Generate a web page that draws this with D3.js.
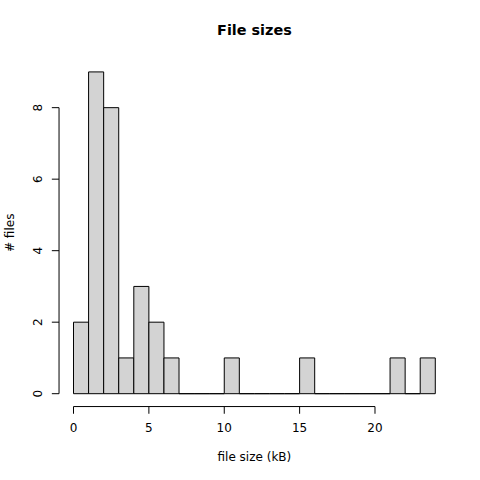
<!DOCTYPE html>
<html><head><meta charset="utf-8">
<script src="https://cdn.jsdelivr.net/npm/d3@7"></script>
<style>body{margin:0;background:#fff}svg{display:block}text{font-family:"DejaVu Sans",sans-serif}</style>
</head><body><div id="c"></div>
<script>
const binStarts = [0,1,2,3,4,5,6,7,8,9,10,11,12,13,14,15,16,17,18,19,20,21,22,23];
const counts    = [2,9,8,1,3,2,1,0,0,0,1,0,0,0,0,1,0,0,0,0,0,1,0,1];
const xTicks = [0,5,10,15,20];
const yTicks = [0,2,4,6,8];
const binWidth = 1;

const W=480,H=480, L=59.04, R=449.76, T=59.04, B=406.56;
const svg=d3.select("#c").append("svg").attr("width",W).attr("height",H);
const xmin=0,xmax=24, ymax=9;
const dx=(xmax-xmin)*0.04, dy=ymax*0.04;
const x=d3.scaleLinear().domain([xmin-dx,xmax+dx]).range([L,R]);
const y=d3.scaleLinear().domain([-dy,ymax+dy]).range([B,T]);

svg.append("g").selectAll("path").data(binStarts).join("path")
 .attr("d",(d,i)=>{const x0=x(d),x1=x(d+binWidth),y0=y(0),y1=y(counts[i]);
   return `M${x0},${y0}L${x0},${y1}L${x1},${y1}L${x1},${y0}Z`;})
 .attr("fill","#d3d3d3").attr("stroke","#000").attr("stroke-width",1);

// x axis
const gx=svg.append("g");
gx.append("line").attr("x1",x(xTicks[0])).attr("x2",x(xTicks[xTicks.length-1])).attr("y1",B).attr("y2",B).attr("stroke","#000");
gx.selectAll("line.t").data(xTicks).join("line").attr("class","t")
 .attr("x1",d=>x(d)).attr("x2",d=>x(d)).attr("y1",B).attr("y2",B+7.2).attr("stroke","#000");
gx.selectAll("text").data(xTicks).join("text").attr("x",d=>x(d)).attr("y",B+25.5)
 .attr("text-anchor","middle").attr("font-size",12).text(d=>d);

// y axis
const gy=svg.append("g");
gy.append("line").attr("x1",L).attr("x2",L).attr("y1",y(yTicks[0])).attr("y2",y(yTicks[yTicks.length-1])).attr("stroke","#000");
gy.selectAll("line.t").data(yTicks).join("line").attr("class","t")
 .attr("x1",L).attr("x2",L-7.2).attr("y1",d=>y(d)).attr("y2",d=>y(d)).attr("stroke","#000");
gy.selectAll("text").data(yTicks).join("text")
 .attr("transform",d=>`translate(${L-17},${y(d)}) rotate(-90)`)
 .attr("text-anchor","middle").attr("font-size",12).text(d=>d);

svg.append("text").attr("x",(L+R)/2).attr("y",461).attr("text-anchor","middle").attr("font-size",12).text("file size (kB)");
svg.append("text").attr("transform",`translate(14,${(T+B)/2}) rotate(-90)`).attr("text-anchor","middle").attr("font-size",12).text("# files");
svg.append("text").attr("x",(L+R)/2).attr("y",35).attr("text-anchor","middle").attr("font-size",14.4).attr("font-weight","bold").text("File sizes");
</script></body></html>
